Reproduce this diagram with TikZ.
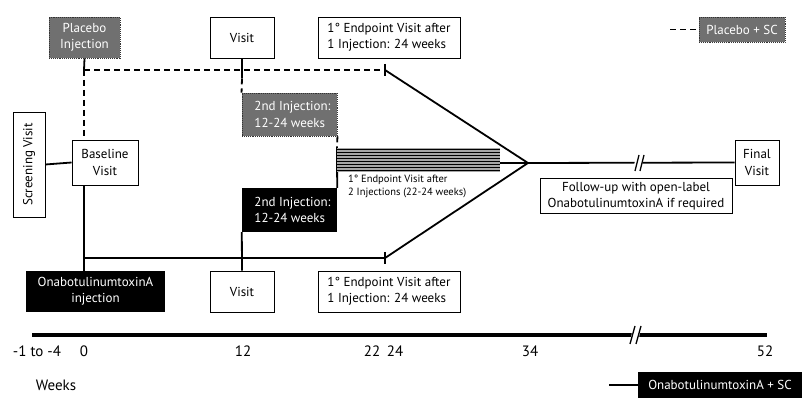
\documentclass[tikz,border=0pt]{standalone}
\usepackage{fontspec}
\setmainfont{PT Sans}
\usetikzlibrary{positioning,calc}

\definecolor{plgray}{RGB}{112,112,112}
\newcommand\boxfnt{\fontsize{13}{16.5}\selectfont}
\newcommand\smallfnt{\fontsize{10.5}{13}\selectfont}
\newcommand\axisfnt{\fontsize{15}{18}\selectfont}

\tikzset{
    visitbox/.style={draw, line width=0.9pt, fill=white, align=center, inner sep=0pt, font=\boxfnt},
    placebobox/.style={draw=black!80, densely dotted, line width=0.9pt, fill=plgray, text=white, align=center, inner sep=0pt, font=\boxfnt},
    onabox/.style={fill=black, text=white, align=center, inner sep=0pt, font=\boxfnt},
    conn/.style={line width=1.8pt},
    dconn/.style={line width=1.8pt, dash pattern=on 6pt off 4pt},
    weeklab/.style={font=\axisfnt, inner sep=0pt}
}

\begin{document}
\begin{tikzpicture}[x=1pt, y=-1pt]

\useasboundingbox (0,0) rectangle (807,414);

% Top row
\node[placebobox, minimum width=71, minimum height=41] (plac) at (84.5,37.5) {Placebo\\Injection};
\node[visitbox, minimum width=64, minimum height=41] (visT) at (242,37.5) {Visit};
\node[visitbox, minimum width=142, minimum height=41, align=left] (endT) at (389,37.5) {1° Endpoint Visit after\\1 Injection: 24 weeks};
\node[placebobox, minimum width=86, minimum height=25] (legP) at (742,29.5) {Placebo + SC};

% Middle row
\node[visitbox, rotate=90, minimum width=105, minimum height=32] (scr) at (29,164.5) {Screening Visit};
\node[visitbox, minimum width=66, minimum height=45] (base) at (105,162.5) {Baseline\\Visit};
\node[placebobox, minimum width=95, minimum height=43, align=left] (inj2g) at (289.5,114.5) {\hspace*{6pt}2nd Injection:\\\hspace*{6pt}12-24 weeks};
\node[onabox, minimum width=95, minimum height=44, align=left] (inj2b) at (289.5,210) {\hspace*{6pt}2nd Injection:\\\hspace*{6pt}12-24 weeks};
\node[font=\smallfnt, align=left, inner sep=0pt, anchor=north west] (end2) at (348,175) {1° Endpoint Visit after\\2 Injections (22-24 weeks)};
\node[visitbox, minimum width=192, minimum height=35] (follow) at (636,196) {Follow-up with open-label\\OnabotulinumtoxinA if required};
\node[visitbox, minimum width=44, minimum height=45] (final) at (757,162.5) {Final\\Visit};

% Bottom row
\node[onabox, minimum width=139, minimum height=41] (ona) at (95.5,291.5) {OnabotulinumtoxinA\\injection};
\node[visitbox, minimum width=64, minimum height=41] (visB) at (242,291.5) {Visit};
\node[visitbox, minimum width=142, minimum height=41, align=left] (endB) at (389,291.5) {1° Endpoint Visit after\\1 Injection: 24 weeks};
\node[onabox, minimum width=164, minimum height=26] (legO) at (720,385) {OnabotulinumtoxinA + SC};

% Junctions
\coordinate (topL) at (84,70);
\coordinate (botL) at (84,258);
\coordinate (tickT) at (385,70);
\coordinate (tickB) at (385,258);
\coordinate (conv) at (528,163);
\coordinate (barW) at (337,148);
\coordinate (barE) at (500,163);

% Placebo arm
\draw[conn] (plac.south) -- (topL);
\draw[dconn] (topL) -- (tickT);
\draw[dconn] (topL) -- (base.north -| topL);
\draw[conn] (visT.south) -- ++(0,20);
\draw[dconn] ($(visT.south)+(0,20)$) -- (inj2g.north west);
\draw[dconn] (inj2g.south east) -- (barW);
\draw[conn] (tickT) ++(0,-6) -- ++(0,12);
\draw[conn] (tickT) -- (conv);

% Onabot arm
\draw[conn] (scr.south) -- (base.west);
\draw[conn] (base.south -| botL) -- (ona.north -| botL);
\draw[conn] (botL) -- (tickB);
\draw[conn] (tickB) ++(0,-6) -- ++(0,12);
\draw[conn] (tickB) -- (conv);
\draw[conn] (visB.north) -- (inj2b.south west);
\draw[conn] (inj2b.north east) -- (barW);

% Striped bar: 2 injections
\fill[gray!70] (barW) rectangle (500,172);
\foreach \i in {0,...,7} {
    \draw[line width=1.8pt] (337,149.5+3*\i) -- (500,149.5+3*\i);
}
\draw[conn] (barE) -- (conv) -- (final.west);
% break mark
\fill[white] (636,155) -- (644,155) -- (641,171) -- (633,171) -- cycle;
\draw[line width=1.3pt] (635,171) -- (639,155) (640,171) -- (644,155);

% Time axis
\draw[line width=4pt] (32,335) -- (767,335);
\fill[white] (633,325) -- (641,325) -- (638,345) -- (630,345) -- cycle;
\draw[line width=1.3pt] (630,344) -- (635,326) (636,344) -- (641,326);
\node[weeklab] (wk0) at (37,351) {-1 to -4};
\node[weeklab] (wk1) at (84,351) {0};
\node[weeklab] (wk2) at (243,351) {12};
\node[weeklab] (wk3) at (372,351) {22};
\node[weeklab] (wk4) at (395,351) {24};
\node[weeklab] (wk5) at (530,351) {34};
\node[weeklab] (wk6) at (765,351) {52};
\node[weeklab] (weeks) at (56,385) {Weeks};

% Legend
\coordinate (legPs) at (670,29.5);
\coordinate (legOs) at (609,385);
\draw[dconn] (legPs) -- (legP.west);
\draw[conn] (legOs) -- (legO.west);

\end{tikzpicture}
\end{document}
